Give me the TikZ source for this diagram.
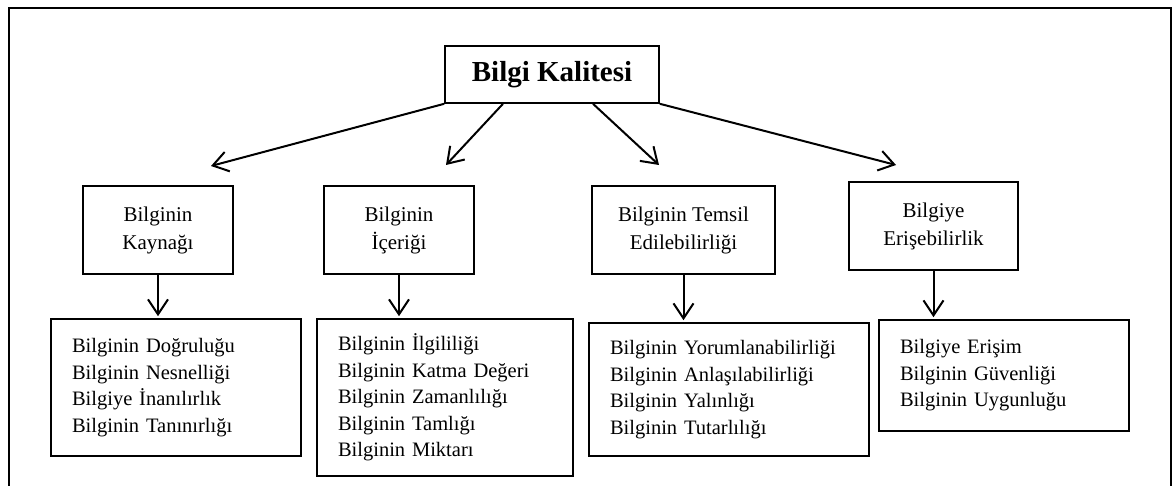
\documentclass[tikz,border=0pt]{standalone}
\usepackage{fontspec}
\setmainfont{Liberation Serif}
\usetikzlibrary{arrows.meta}
\tikzset{
    frame-line/.style = {line width=2pt},
    title-box/.style = {draw, line width=1.6pt, rectangle, minimum width=214pt, minimum height=57pt, font=\fontsize{29}{34}\selectfont\bfseries},
    group-box/.style = {draw, line width=1.6pt, rectangle, minimum height=88pt, align=center, font=\fontsize{21}{28}\selectfont},
    list-box/.style = {draw, line width=1.6pt, rectangle, inner xsep=21pt, align=left, font=\fontsize{20.5}{26.5}\selectfont},
    flow-arrow/.style = {line width=2pt, -{Straight Barb[length=15pt,width=20pt,line width=2pt]}},
}

\begin{document}
\begin{tikzpicture}[x=1pt, y=-1pt]
\useasboundingbox (0,0) rectangle (1173,486);
\draw[frame-line] (9,486) -- (9,8) -- (1171,8) -- (1171,486);

\node[title-box] (kalite) at (552,74.5) {Bilgi Kalitesi};

\node[group-box, minimum width=150pt] (kaynak) at (158,230) {Bilginin\\Kaynağı};
\node[group-box, minimum width=150pt] (icerik) at (399,230) {Bilginin\\İçeriği};
\node[group-box, minimum width=183pt] (temsil) at (683.5,230) {Bilginin Temsil\\Edilebilirliği};
\node[group-box, minimum width=169pt] (erisim) at (933.5,226) {Bilgiye\\Erişebilirlik};

\node[list-box, text width=208pt, minimum height=137pt] (kaynak-list) at (176,387.5)
    {Bilginin Doğruluğu\\Bilginin Nesnelliği\\Bilgiye İnanılırlık\\Bilginin Tanınırlığı};
\node[list-box, text width=214pt, minimum height=157pt] (icerik-list) at (445,397.5)
    {Bilginin İlgililiği\\Bilginin Katma Değeri\\Bilginin Zamanlılığı\\Bilginin Tamlığı\\Bilginin Miktarı};
\node[list-box, text width=238pt, minimum height=133pt] (temsil-list) at (729,389.5)
    {Bilginin Yorumlanabilirliği\\Bilginin Anlaşılabilirliği\\Bilginin Yalınlığı\\Bilginin Tutarlılığı};
\node[list-box, text width=208pt, minimum height=111pt] (erisim-list) at (1004,375.5)
    {Bilgiye Erişim\\Bilginin Güvenliği\\Bilginin Uygunluğu};

\coordinate (tip-a) at (211,166);
\coordinate (tip-b) at (446,165);
\coordinate (tip-c) at (659,165);
\coordinate (tip-d) at (896,165);

\draw[flow-arrow] (kalite.south west) -- (tip-a);
\draw[flow-arrow] ([xshift=-49pt]kalite.south) -- (tip-b);
\draw[flow-arrow] ([xshift=41pt]kalite.south) -- (tip-c);
\draw[flow-arrow] (kalite.south east) -- (tip-d);

\draw[flow-arrow, shorten >=2pt] (kaynak.south) -- (kaynak.south |- kaynak-list.north);
\draw[flow-arrow, shorten >=2pt] (icerik.south) -- (icerik.south |- icerik-list.north);
\draw[flow-arrow, shorten >=2pt] (temsil.south) -- (temsil.south |- temsil-list.north);
\draw[flow-arrow, shorten >=2pt] (erisim.south) -- (erisim.south |- erisim-list.north);
\end{tikzpicture}
\end{document}
